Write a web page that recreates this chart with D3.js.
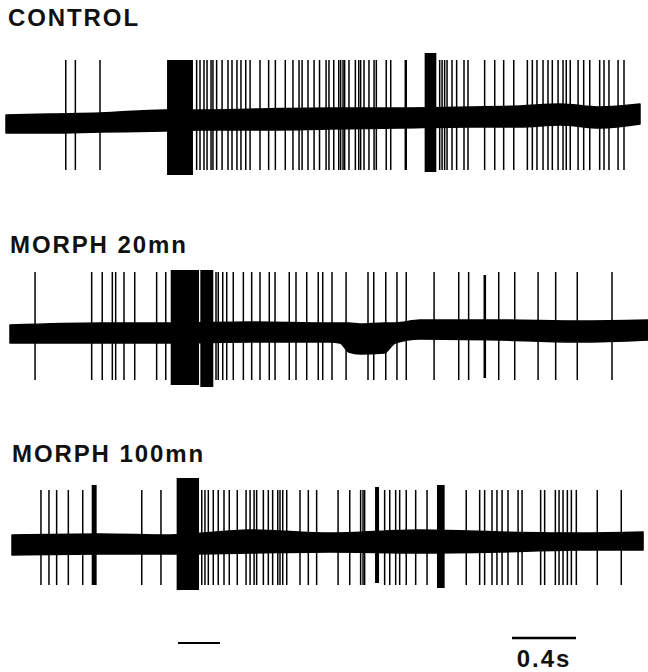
<!DOCTYPE html>
<html>
<head>
<meta charset="utf-8">
<script src="https://cdn.jsdelivr.net/npm/d3@7/dist/d3.min.js"></script>
<style>
body { margin: 0; background: #fff; }
svg { display: block; }
.label { font-family: "Liberation Sans", Arial, sans-serif; font-weight: bold; font-size: 24px; letter-spacing: 1.9px; fill: #111; }
</style>
</head>
<body>
<script>
// sweep names
var sweepNames = ["CONTROL", "MORPH 20mn", "MORPH 100mn"];

// start / end of each recorded sweep (s)
var sweepSpan = [[0.0375, 4.0], [0.0625, 4.05], [0.075, 4.019]];

// spike times (s)
var spikesControl = [0.411, 0.471, 0.625,
    1.229, 1.250, 1.275, 1.294, 1.319, 1.331, 1.354, 1.388, 1.425, 1.450, 1.481, 1.506, 1.536, 1.563,
    1.625, 1.679, 1.721, 1.783, 1.831, 1.869, 1.888, 1.925, 1.963, 1.997, 2.038, 2.056, 2.086, 2.117,
    2.129, 2.144, 2.154, 2.181, 2.221, 2.242, 2.254, 2.275, 2.306, 2.338, 2.352, 2.414, 2.442, 2.533,
    2.539, 2.748, 2.763, 2.779, 2.794, 2.825, 2.854, 2.900, 2.925, 3.029, 3.092, 3.148, 3.211, 3.296,
    3.327, 3.356, 3.394, 3.425, 3.452, 3.488, 3.519, 3.539, 3.564, 3.613, 3.648, 3.686, 3.748, 3.775,
    3.806, 3.863, 3.900];
var spikesMorph20 = [0.219, 0.573, 0.639, 0.702, 0.723, 0.775, 0.842, 0.979, 1.036,
    1.350, 1.364, 1.392, 1.417, 1.458, 1.521, 1.573, 1.625, 1.683, 1.719, 1.808, 1.850, 1.917, 1.989,
    2.017, 2.075, 2.163, 2.300, 2.336, 2.411, 2.481, 2.539, 2.713, 2.867, 2.929, 3.117, 3.217, 3.363,
    3.473, 3.608, 3.825];
var spikesMorph100 = [0.256, 0.306, 0.354, 0.427, 0.517, 0.886, 1.006,
    1.261, 1.281, 1.302, 1.333, 1.364, 1.400, 1.433, 1.483, 1.538, 1.563, 1.588, 1.604, 1.646, 1.677,
    1.704, 1.736, 1.750, 1.767, 1.792, 1.875, 1.927, 1.979, 2.113, 2.186, 2.254, 2.269, 2.279, 2.404,
    2.436, 2.473, 2.498, 2.539, 2.598, 2.669, 2.914, 2.998, 3.029, 3.075, 3.106, 3.138, 3.175, 3.238,
    3.263, 3.379, 3.404, 3.471, 3.494, 3.519, 3.546, 3.571, 3.602, 3.733, 3.883];

// spike peak / trough per sweep (a.u.)
var spikeUp = [62, 61, 55];
var spikeDown = [-48, -47, -40];

// high frequency bursts: [start s, end s, peak, trough]
var burstsControl = [[1.044, 1.206, 62, -53], [2.654, 2.727, 69, -50]];
var burstsMorph20 = [[1.067, 1.244, 63, -52], [1.252, 1.333, 63, -54], [3.022, 3.038, 58, -45]];
var burstsMorph100 = [[0.573, 0.604, 60, -40], [1.104, 1.244, 67, -45], [2.344, 2.369, 58, -38], [2.731, 2.779, 60, -43]];

// baseline noise envelope: [time s, upper, lower]
var noiseControl = [[0.0375, 7, -11], [0.3125, 8, -11], [0.625, 9, -10], [1.031, 12, -9], [1.25, 12, -8],
    [1.625, 13, -8], [2.063, 14, -7], [2.5, 14, -6], [2.938, 15, -5], [3.25, 16, -5], [3.5, 18, -3],
    [3.75, 15, -6], [4.0, 18, -2]];
var noiseMorph20 = [[0.0625, 8, -10], [0.625, 10, -10], [1.0625, 10, -10], [1.5625, 11, -9], [2.06, 10, -9],
    [2.125, 10, -10], [2.18, 10, -19], [2.25, 9, -21], [2.40, 10, -20], [2.47, 10, -10], [2.625, 13, -6],
    [3.125, 13, -7], [3.625, 12, -9], [4.05, 13, -7]];
var noiseMorph100 = [[0.075, 10, -10], [0.625, 11, -9], [1.0625, 10, -9], [1.5625, 15, -8], [2.0625, 12, -7],
    [2.625, 15, -8], [3.125, 13, -7], [3.625, 12, -5], [4.019, 13, -5]];

// time markers (s)
var stimBar = [1.1125, 1.375];
var scaleBar = [3.2, 3.6];
var scaleLabel = "0.4s";

var width = 648, height = 672;
var sweepMid = [122, 333, 545];
var labelY = [26, 253, 462];
var labelX = [8, 10, 12];

var svg = d3.select("body").append("svg")
    .attr("width", width)
    .attr("height", height);

var x = d3.scaleLinear()
    .domain([0, 4.05])
    .range([0, width]);

var spikes = [spikesControl, spikesMorph20, spikesMorph100];
var bursts = [burstsControl, burstsMorph20, burstsMorph100];
var noise = [noiseControl, noiseMorph20, noiseMorph100];

sweepNames.forEach(function (name, i) {
    var y = d3.scaleLinear()
        .domain([-100, 100])
        .range([sweepMid[i] + 100, sweepMid[i] - 100]);

    var g = svg.append("g").attr("class", "sweep");

    svg.append("text")
        .attr("class", "label")
        .attr("x", labelX[i])
        .attr("y", labelY[i])
        .text(name);

    //thick baseline noise band
    var band = d3.area()
        .curve(d3.curveMonotoneX)
        .x(function (d) { return x(d[0]); })
        .y0(function (d) { return y(d[2]); })
        .y1(function (d) { return y(d[1]); });

    g.append("path")
        .datum(noise[i])
        .attr("d", band)
        .attr("fill", "#000")
        .attr("stroke", "#000")
        .attr("stroke-width", 1.5)
        .attr("stroke-linejoin", "round");

    //bursts drawn as solid blocks
    g.selectAll(".burst")
        .data(bursts[i])
        .enter()
        .append("rect")
        .attr("class", "burst")
        .attr("x", function (d) { return x(d[0]); })
        .attr("width", function (d) { return x(d[1]) - x(d[0]); })
        .attr("y", function (d) { return y(d[2]); })
        .attr("height", function (d) { return y(d[3]) - y(d[2]); })
        .attr("fill", "#000");

    //single spikes
    g.selectAll(".spike")
        .data(spikes[i])
        .enter()
        .append("line")
        .attr("class", "spike")
        .attr("x1", function (d) { return x(d); })
        .attr("x2", function (d) { return x(d); })
        .attr("y1", y(spikeUp[i]))
        .attr("y2", y(spikeDown[i]))
        .attr("stroke", "#000")
        .attr("stroke-width", 1.5);
});

// bottom markers
svg.append("line")
    .attr("x1", x(stimBar[0])).attr("x2", x(stimBar[1]))
    .attr("y1", 643).attr("y2", 643)
    .attr("stroke", "#000").attr("stroke-width", 2);

svg.append("line")
    .attr("x1", x(scaleBar[0])).attr("x2", x(scaleBar[1]))
    .attr("y1", 638).attr("y2", 638)
    .attr("stroke", "#000").attr("stroke-width", 2.5);

svg.append("text")
    .attr("class", "label")
    .attr("x", (x(scaleBar[0]) + x(scaleBar[1])) / 2)
    .attr("y", 667)
    .attr("text-anchor", "middle")
    .text(scaleLabel);
</script>
</body>
</html>
